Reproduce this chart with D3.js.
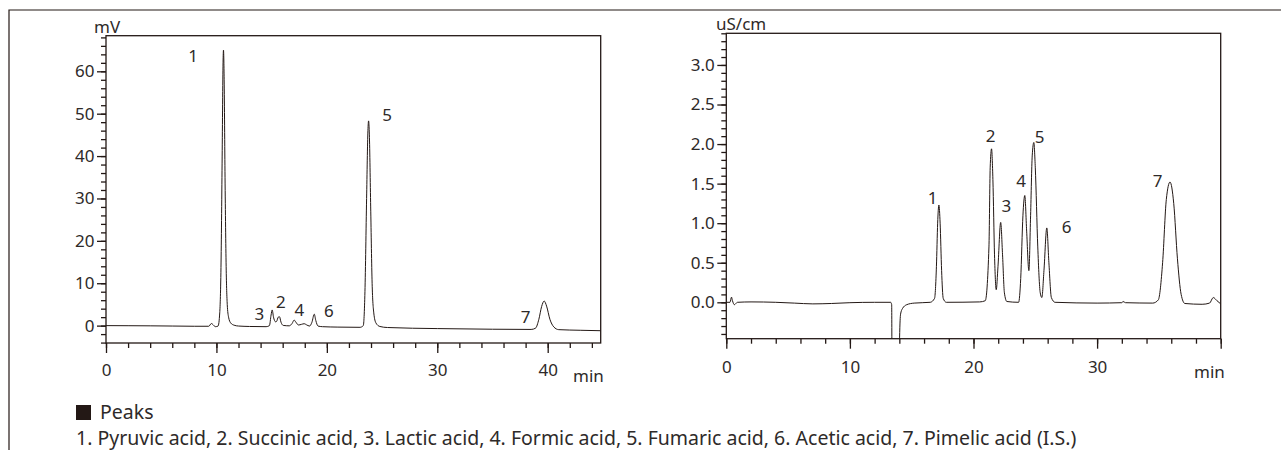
<!DOCTYPE html>
<html>
<head>
<meta charset="utf-8">
<script src="https://cdn.jsdelivr.net/npm/d3@7"></script>
<style>
  body { margin: 0; background: #fff; }
  svg { display: block; font-family: "Noto Sans", "Open Sans", sans-serif; }
</style>
</head>
<body>
<svg></svg>
<script>
// left chromatogram (UV, mV) - [min, mV]
const leftTrace = [
  [0, 0], [2, -0.02], [4, -0.05], [6, -0.1], [8, -0.15], [9.3, -0.15], [9.55, 0.5], [9.7, 0.2],
  [9.9, -0.25], [10.15, -0.1], [10.3, 3], [10.42, 15], [10.52, 40], [10.6, 62], [10.64, 65],
  [10.7, 58], [10.78, 35], [10.88, 14], [10.98, 5], [11.1, 2], [11.3, 0.6], [11.6, 0.1], [12, -0.1],
  [13, -0.2], [14.5, -0.25], [14.8, 0], [14.95, 2.5], [15.05, 3.7], [15.17, 2], [15.35, 0.9],
  [15.45, 1.0], [15.6, 2.0], [15.71, 2.1], [15.85, 0.8], [16.05, 0.05], [16.6, -0.05], [16.85, 0.5],
  [17.04, 1.3], [17.2, 0.8], [17.43, 0.15], [17.7, 0.3], [17.95, 0.45], [18.15, 0.2], [18.43, -0.1],
  [18.65, 0.8], [18.86, 2.7], [19.0, 1.2], [19.2, -0.1], [19.6, -0.25], [21, -0.35], [23, -0.4],
  [23.3, 0], [23.45, 8], [23.6, 30], [23.72, 46], [23.78, 48.3], [23.85, 45], [23.97, 28], [24.1, 10],
  [24.25, 3], [24.45, 0.6], [24.8, -0.2], [25.5, -0.45], [30, -0.7], [35, -0.85], [38.5, -0.9],
  [38.9, -0.6], [39.2, 1.5], [39.45, 4.5], [39.68, 5.8], [39.9, 4.6], [40.2, 1.5], [40.55, -0.3],
  [41, -0.95], [43, -1.1], [44.8, -1.2]
]
const leftPeakNames = ['1', '3', '2', '4', '6', '5', '7']
const leftPeakLabelAt = [[7.89, 63.8], [13.9, 2.9], [15.84, 5.66], [17.5, 3.7], [20.19, 3.47], [25.45, 49.9], [37.99, 2.12]]
const leftXTicks = [0, 10, 20, 30, 40]
const leftYTicks = [0, 10, 20, 30, 40, 50, 60]

// right chromatogram (conductivity, uS/cm) - [min, uS/cm]
const rightTrace = [
  [0, 0], [0.3, 0.0], [0.42, 0.065], [0.5, 0.02], [0.65, -0.03], [0.9, 0], [2, 0.005], [4, 0.0],
  [5.5, -0.01], [7, -0.02], [8.5, -0.015], [10, -0.005], [12, 0.0], [13.3, 0.0], [13.38, -0.03],
  [13.42, -1.5], [13.96, -1.5], [14.02, -0.45], [14.1, -0.15], [14.25, -0.08], [14.6, -0.03],
  [15.2, -0.01], [16.5, 0.0], [16.85, 0.05], [17.0, 0.45], [17.1, 1.0], [17.2, 1.23], [17.3, 1.0],
  [17.42, 0.4], [17.55, 0.05], [17.8, 0.0], [20.5, 0.005], [20.95, 0.02], [21.25, 0.7], [21.35, 1.7],
  [21.46, 1.94], [21.57, 1.55], [21.7, 0.6], [21.84, 0.16], [21.98, 0.45], [22.2, 1.01], [22.35, 0.6],
  [22.5, 0.12], [22.7, 0.01], [23.65, 0.0], [23.82, 0.3], [24.0, 1.1], [24.15, 1.35], [24.3, 0.9],
  [24.48, 0.4], [24.62, 1.1], [24.75, 1.85], [24.88, 2.02], [25.0, 1.7], [25.2, 0.7], [25.4, 0.12],
  [25.53, 0.06], [25.7, 0.4], [25.93, 0.94], [26.1, 0.5], [26.3, 0.06], [26.6, 0.0], [30, -0.01],
  [32.0, -0.005], [32.1, 0.01], [32.3, -0.005], [34.5, -0.01], [34.95, 0.03], [35.3, 0.5], [35.6, 1.3],
  [35.9, 1.52], [36.2, 1.25], [36.5, 0.55], [36.8, 0.1], [37.1, -0.015], [38.5, -0.025], [39.1, -0.01],
  [39.4, 0.06], [39.7, 0.02], [40, -0.02]
]
const rightPeakNames = ['1', '2', '3', '4', '5', '6', '7']
const rightPeakLabelAt = [[16.7, 1.33], [21.38, 2.11], [22.65, 1.22], [23.86, 1.54], [25.34, 2.1], [27.54, 0.96], [34.9, 1.54]]
const rightXTicks = [0, 10, 20, 30, 40]
const rightXLabels = ['0', '10', '20', '30', '']
const rightYTicks = [0, 0.5, 1.0, 1.5, 2.0, 2.5, 3.0]

const legendTitle = 'Peaks'
const legendText = '1. Pyruvic acid, 2. Succinic acid, 3. Lactic acid, 4. Formic acid, 5. Fumaric acid, 6. Acetic acid, 7. Pimelic acid (I.S.)'

let width = 1281
let height = 450
let ink = '#231815'
let textColor = '#2e2a29'
let labelSize = '17px'

let svg = d3.select('svg').attr('width', width).attr('height', height)

// outer frame (top and left only)
svg.append('path')
   .attr('d', 'M9,' + height + 'V10H' + width)
   .attr('fill', 'none')
   .attr('stroke', ink)
   .attr('stroke-width', 1.2)

const drawChart = (cfg) => {
    let xScale = d3.scaleLinear().domain(cfg.xDomain).range([cfg.left, cfg.right])
    let yScale = d3.scaleLinear().domain(cfg.yDomain).range([cfg.bottom, cfg.top])

    let g = svg.append('g')

    g.append('clipPath')
     .attr('id', cfg.id + '-clip')
     .append('rect')
     .attr('x', cfg.left)
     .attr('y', cfg.top)
     .attr('width', cfg.right - cfg.left)
     .attr('height', cfg.bottom - cfg.top)

    // minor ticks
    g.append('g')
     .attr('transform', 'translate(0,' + cfg.bottom + ')')
     .call(d3.axisBottom(xScale).tickValues(cfg.xMinor).tickSize(5).tickFormat(''))
    g.append('g')
     .attr('transform', 'translate(' + cfg.left + ',0)')
     .call(d3.axisLeft(yScale).tickValues(cfg.yMinor).tickSize(5).tickFormat(''))

    // major ticks + labels
    g.append('g')
     .attr('transform', 'translate(0,' + cfg.bottom + ')')
     .call(d3.axisBottom(xScale).tickValues(cfg.xTicks).tickSize(10).tickPadding(cfg.xPad)
           .tickFormat((d, i) => cfg.xLabels[i]))
    g.append('g')
     .attr('transform', 'translate(' + cfg.left + ',0)')
     .call(d3.axisLeft(yScale).tickValues(cfg.yTicks).tickSize(9).tickPadding(2.5).tickFormat(cfg.yFormat))

    g.selectAll('.domain').remove()
    g.selectAll('.tick line').attr('stroke', ink).attr('stroke-width', 1.3)
    g.selectAll('.tick text')
     .attr('fill', textColor)
     .style('font-size', labelSize)
     .style('font-family', '"Noto Sans", "Open Sans", sans-serif')

    // plot box
    g.append('rect')
     .attr('x', cfg.left)
     .attr('y', cfg.top)
     .attr('width', cfg.right - cfg.left)
     .attr('height', cfg.bottom - cfg.top)
     .attr('fill', 'none')
     .attr('stroke', ink)
     .attr('stroke-width', 1.3)

    // trace
    let line = d3.line()
                 .x(d => xScale(d[0]))
                 .y(d => yScale(d[1]))
                 .curve(d3.curveMonotoneX)

    g.append('path')
     .datum(cfg.trace)
     .attr('clip-path', 'url(#' + cfg.id + '-clip)')
     .attr('d', line)
     .attr('fill', 'none')
     .attr('stroke', ink)
     .attr('stroke-width', 1)

    // peak numbers
    g.selectAll('.peak-label')
     .data(cfg.peakNames)
     .enter()
     .append('text')
     .attr('class', 'peak-label')
     .attr('x', (d, i) => xScale(cfg.peakAt[i][0]))
     .attr('y', (d, i) => yScale(cfg.peakAt[i][1]))
     .attr('text-anchor', 'middle')
     .attr('dominant-baseline', 'central')
     .attr('fill', textColor)
     .style('font-size', labelSize)
     .text(d => d)

    // units
    g.append('text')
     .attr('x', cfg.yUnitX)
     .attr('y', cfg.yUnitY)
     .attr('fill', textColor)
     .style('font-size', labelSize)
     .text(cfg.yUnit)
    g.append('text')
     .attr('x', cfg.xUnitX)
     .attr('y', cfg.xUnitY)
     .attr('fill', textColor)
     .style('font-size', labelSize)
     .text('min')
}

drawChart({
    id: 'left', trace: leftTrace,
    left: 106, right: 600.7, top: 35.7, bottom: 343,
    xDomain: [0, 44.8], yDomain: [-4.1, 68.4],
    xTicks: leftXTicks, xLabels: leftXTicks.map(String), xMinor: d3.range(0, 45, 2), xPad: 10.5,
    yTicks: leftYTicks, yMinor: d3.range(-4, 69, 2), yFormat: d3.format('d'),
    peakNames: leftPeakNames, peakAt: leftPeakLabelAt,
    yUnit: 'mV', yUnitX: 94, yUnitY: 33, xUnitX: 573, xUnitY: 382
})

drawChart({
    id: 'right', trace: rightTrace,
    left: 726.3, right: 1220.7, top: 33.3, bottom: 338.7,
    xDomain: [0, 40], yDomain: [-0.46, 3.4],
    xTicks: rightXTicks, xLabels: rightXLabels, xMinor: d3.range(0, 41, 2), xPad: 12,
    yTicks: rightYTicks, yMinor: d3.range(-0.4, 3.45, 0.1), yFormat: d3.format('.1f'),
    peakNames: rightPeakNames, peakAt: rightPeakLabelAt,
    yUnit: 'uS/cm', yUnitX: 716, yUnitY: 29.5, xUnitX: 1194, xUnitY: 378
})

// legend
svg.append('rect')
   .attr('x', 76)
   .attr('y', 405)
   .attr('width', 15)
   .attr('height', 15)
   .attr('fill', ink)
svg.append('text')
   .attr('x', 100)
   .attr('y', 419)
   .attr('fill', textColor)
   .style('font-size', '19.5px')
   .text(legendTitle)
svg.append('text')
   .attr('x', 76)
   .attr('y', 445)
   .attr('fill', textColor)
   .style('font-size', '19.5px')
   .text(legendText)
</script>
</body>
</html>
